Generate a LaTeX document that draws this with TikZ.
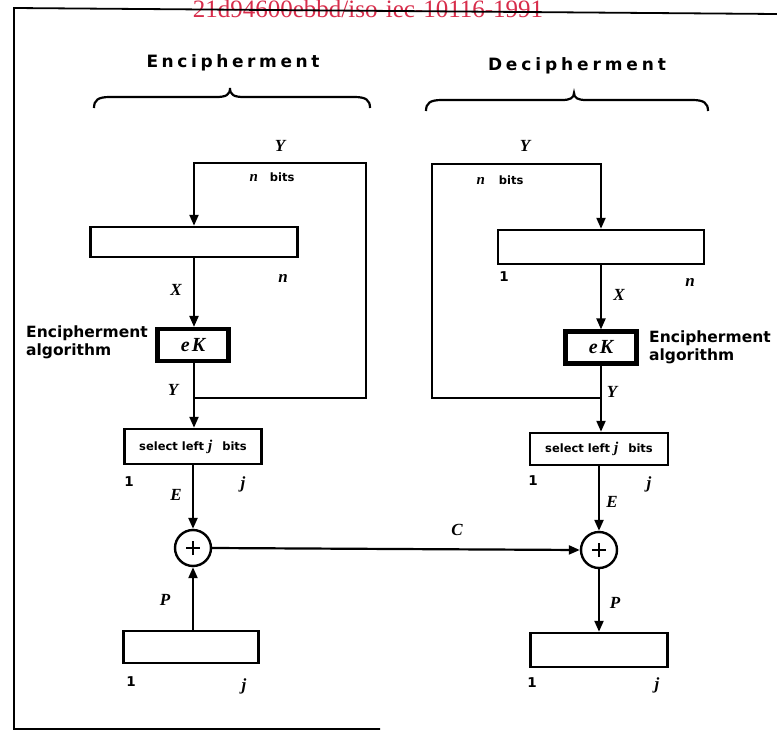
\documentclass[tikz,border=0pt]{standalone}
\usepackage{fontspec}
\setmainfont{DejaVu Sans}
\newfontfamily\serfont{Liberation Serif}
\usetikzlibrary{arrows.meta}
\definecolor{wm}{RGB}{215,45,75}
\newcommand\myv[1]{{\serfont\bfseries\itshape #1}}
\newcommand\spreadword[2]{\makebox[#1][s]{#2}}
\begin{document}
\begin{tikzpicture}[x=1pt,y=-1pt,
  wire/.style={line width=2.2pt},
  arr/.style={line width=2.2pt,-{Triangle[length=11pt,width=9pt]}},
  reg/.style={draw,line width=2.5pt,inner sep=0pt},
  ekbox/.style={draw,line width=4.2pt,inner sep=0pt,minimum width=71pt,minimum height=32pt,
    font=\serfont\bfseries\itshape\fontsize{20}{20}\selectfont},
  xor/.style={draw,circle,line width=2.4pt,minimum size=36pt,inner sep=0pt},
  lbl/.style={inner sep=0pt,font=\serfont\bfseries\itshape\fontsize{17}{17}\selectfont},
  num/.style={inner sep=0pt,font=\bfseries\fontsize{13.5}{13.5}\selectfont},
  small/.style={inner sep=0pt,font=\bfseries\fontsize{11.5}{11.5}\selectfont},
  alg/.style={inner sep=0pt,align=left,font=\bfseries\fontsize{15.5}{18}\selectfont},
  head/.style={inner sep=0pt,font=\bfseries\fontsize{17}{17}\selectfont},
  brace/.style={line width=2.2pt}
]
\useasboundingbox (0,0) rectangle (777,731);

% watermark
\node[inner sep=0pt,anchor=base,text=wm,font=\serfont\fontsize{25}{25}\selectfont] (wmk) at (368,17) {21d94600ebbd/iso-iec-10116-1991};

% frame
\draw[line width=1.8pt] (777,14) -- (14,8) -- (14,729) -- (380,729);

% headings
\node[head] (h1) at (233,63) {\spreadword{173pt}{E\hfil n\hfil c\hfil i\hfil p\hfil h\hfil e\hfil r\hfil m\hfil e\hfil n\hfil t}};
\node[head] (h2) at (577,66) {\spreadword{178pt}{D\hfil e\hfil c\hfil i\hfil p\hfil h\hfil e\hfil r\hfil m\hfil e\hfil n\hfil t}};

% braces
\draw[brace] (94,108) .. controls (94,100) and (98,97) .. (110,97) -- (216,97)
  .. controls (226,97) and (230,95) .. (230,88)
  .. controls (230,95) and (234,97) .. (244,97) -- (354,97)
  .. controls (366,97) and (370,100) .. (370,108);
\draw[brace] (426,111) .. controls (426,103) and (430,100) .. (442,100) -- (562,100)
  .. controls (570,100) and (574,98) .. (574,93)
  .. controls (574,98) and (578,100) .. (586,100) -- (692,100)
  .. controls (704,100) and (708,103) .. (708,111);

% ---------------- Left: encipherment ----------------
\node[reg,minimum width=207pt,minimum height=30pt] (regL) at (194,242) {};
\node[ekbox] (ekL) at (193,345) {e\hspace{2pt}K};
\node[reg,small,minimum width=137pt,minimum height=35pt] (selL) at (193,446.5) {select left \myv{\fontsize{15}{15}\selectfont j}\hspace{10pt}bits};
\node[xor] (xorL) at (193,548) {};
\draw[line width=2.6pt] ([xshift=-7pt]xorL.center) -- ([xshift=7pt]xorL.center)
  ([yshift=-7pt]xorL.center) -- ([yshift=7pt]xorL.center);
\node[reg,minimum width=135pt,minimum height=32pt] (botL) at (191,647) {};

\coordinate (jl) at (194,398);
\coordinate (lr1) at (366,398);
\coordinate (lr2) at (366,163);
\coordinate (lt) at (194,163);
\draw[arr] (jl) -- (lr1) -- (lr2) -- (lt) -- (regL.north);
\draw[arr] (regL.south) -- (regL.south |- ekL.north);
\draw[arr] (ekL.south -| regL.south) -- (regL.south |- selL.north);
\draw[arr] (selL.south -| xorL.north) -- (xorL.north);
\draw[arr] (botL.north -| xorL.south) -- (xorL.south);

\node[lbl] (yl1) at (280,146) {Y};
\node[small] (nbl) at (272,177) {\myv{\fontsize{15}{15}\selectfont n}\hspace{12pt}bits};
\node[lbl] (nl) at (283,278) {n};
\node[lbl] (xl) at (176,290) {X};
\node[alg,anchor=west] (algL) at (26,342) {Encipherment\\algorithm};
\node[lbl] (yl2) at (173,390) {Y};
\node[num] (s1l) at (129,482) {1};
\node[lbl] (sjl) at (243,484) {j};
\node[lbl] (el) at (176,495) {E};
\node[lbl] (pl) at (165,600) {P};
\node[num] (b1l) at (131,682) {1};
\node[lbl] (bjl) at (244,686) {j};

% ---------------- Right: decipherment ----------------
\node[reg,minimum width=206pt,minimum height=34pt] (regR) at (601,247) {};
\node[ekbox] (ekR) at (601,347.5) {e\hspace{2pt}K};
\node[reg,small,minimum width=138pt,minimum height=32pt] (selR) at (599,449) {select left \myv{\fontsize{15}{15}\selectfont j}\hspace{10pt}bits};
\node[xor] (xorR) at (599,550) {};
\draw[line width=2.6pt] ([xshift=-7pt]xorR.center) -- ([xshift=7pt]xorR.center)
  ([yshift=-7pt]xorR.center) -- ([yshift=7pt]xorR.center);
\node[reg,minimum width=137pt,minimum height=34pt] (botR) at (599,650) {};

\coordinate (jr) at (601,398);
\coordinate (rl1) at (432,398);
\coordinate (rl2) at (432,164);
\coordinate (rt) at (601,164);
\draw[arr] (jr) -- (rl1) -- (rl2) -- (rt) -- (regR.north);
\draw[arr] (regR.south) -- (ekR.north);
\draw[arr] (ekR.south) -- (ekR.south |- selR.north);
\draw[arr] (selR.south -| xorR.north) -- (xorR.north);
\draw[arr] (xorR.south) -- (botR.north -| xorR.south);

\node[lbl] (yr1) at (525,146) {Y};
\node[small] (nbr) at (500,180) {\myv{\fontsize{15}{15}\selectfont n}\hspace{14pt}bits};
\node[num] (r1r) at (504,277) {1};
\node[lbl] (nr) at (690,282) {n};
\node[lbl] (xr) at (619,295) {X};
\node[alg,anchor=west] (algR) at (649,347) {Encipherment\\algorithm};
\node[lbl] (yr2) at (612,392) {Y};
\node[num] (s1r) at (533,481) {1};
\node[lbl] (sjr) at (649,484) {j};
\node[lbl] (er) at (612,502) {E};
\node[lbl] (pr) at (615,603) {P};
\node[num] (b1r) at (532,683) {1};
\node[lbl] (bjr) at (657,685) {j};

% C connector
\draw[arr] (xorL.east) -- (xorR.west);
\node[lbl] (cl) at (457,530) {C};
\end{tikzpicture}
\end{document}
